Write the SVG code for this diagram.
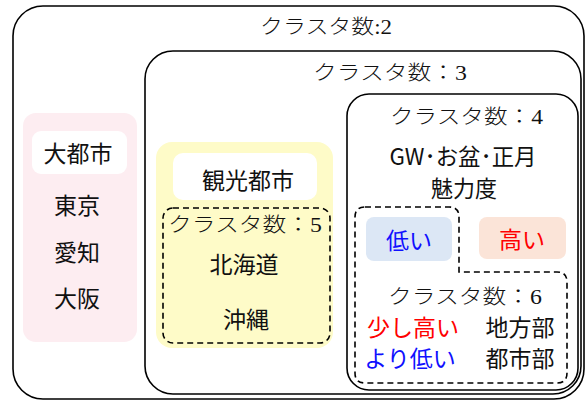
<svg xmlns="http://www.w3.org/2000/svg" width="587" height="401" viewBox="0 0 587 401">
<style>
.box{fill:none;stroke:#000;stroke-width:1.6}
.dash{fill:none;stroke:#000;stroke-width:1.6;stroke-dasharray:6 4}
.sans{font-family:"Noto Sans CJK JP","Noto Sans",sans-serif;font-size:23px;fill:#111;text-anchor:middle}
.ser{font-family:"Liberation Serif","Noto Sans CJK JP",serif;font-size:20px;font-weight:300;fill:#111}
.red{fill:#ff0000}
.blue{fill:#1010ff}
</style>
<rect width="587" height="401" fill="#fff"/>
<g id="cluster2">
<rect class="box" x="13" y="6" width="571" height="393" rx="30"/>
<text class="ser" x="260" y="34" textLength="132" lengthAdjust="spacingAndGlyphs">クラスタ数:2</text>
</g>
<g id="cluster3">
<rect class="box" x="145" y="51" width="436" height="343" rx="28"/>
<text class="ser" x="313" y="80" textLength="154" lengthAdjust="spacingAndGlyphs">クラスタ数：3</text>
</g>
<g id="metro">
<rect x="23" y="113" width="114" height="229" rx="13" fill="#fdedf1"/>
<rect x="32" y="131" width="95" height="43" rx="9" fill="#fff"/>
<text class="sans" x="78" y="161.5">大都市</text>
<text class="sans" x="77" y="213.5">東京</text>
<text class="sans" x="77" y="260.5">愛知</text>
<text class="sans" x="77" y="306.5">大阪</text>
</g>
<g id="tourism">
<rect x="156" y="142" width="177" height="206" rx="16" fill="#fefbc8"/>
<rect x="173" y="153" width="144" height="47" rx="10" fill="#fff"/>
<text class="sans" x="248" y="188.5">観光都市</text>
</g>
<g id="cluster5">
<rect class="dash" x="163" y="208" width="167" height="135" rx="10"/>
<text class="ser" x="168" y="232" textLength="154" lengthAdjust="spacingAndGlyphs">クラスタ数：5</text>
<text class="sans" x="244" y="273">北海道</text>
<text class="sans" x="246" y="328">沖縄</text>
</g>
<g id="cluster4">
<rect class="box" x="347" y="94" width="231" height="296" rx="22"/>
<text class="ser" x="390" y="124" textLength="153" lengthAdjust="spacingAndGlyphs">クラスタ数：4</text>
<text class="sans" x="463" y="165" font-size="21" textLength="147" lengthAdjust="spacingAndGlyphs">GW･お盆･正月</text>
<text class="sans" x="464" y="196.5" font-size="21" textLength="66" lengthAdjust="spacingAndGlyphs">魅力度</text>
</g>
<g id="low">
<rect x="366" y="217" width="86" height="44" rx="8" fill="#dce7f5"/>
<text class="sans blue" x="409" y="248.5" font-size="24">低い</text>
</g>
<g id="high">
<rect x="479" y="217" width="87" height="42" rx="8" fill="#fbe4d8"/>
<text class="sans red" x="522" y="247.5" font-size="24">高い</text>
</g>
<g id="cluster6">
<path class="dash" d="M365,207 H449 Q459,207 459,217 V272 H557 Q567,272 567,282 V373 Q567,383 557,383 H365 Q355,383 355,373 V217 Q355,207 365,207 Z"/>
<text class="ser" x="388" y="304" textLength="154" lengthAdjust="spacingAndGlyphs">クラスタ数：6</text>
<text class="sans red" x="413" y="336" font-size="21">少し高い</text>
<text class="sans" x="520" y="336" font-size="21">地方部</text>
<text class="sans blue" x="410" y="367" font-size="21">より低い</text>
<text class="sans" x="520" y="367" font-size="21">都市部</text>
</g>
<g id="connectors"></g>
</svg>
